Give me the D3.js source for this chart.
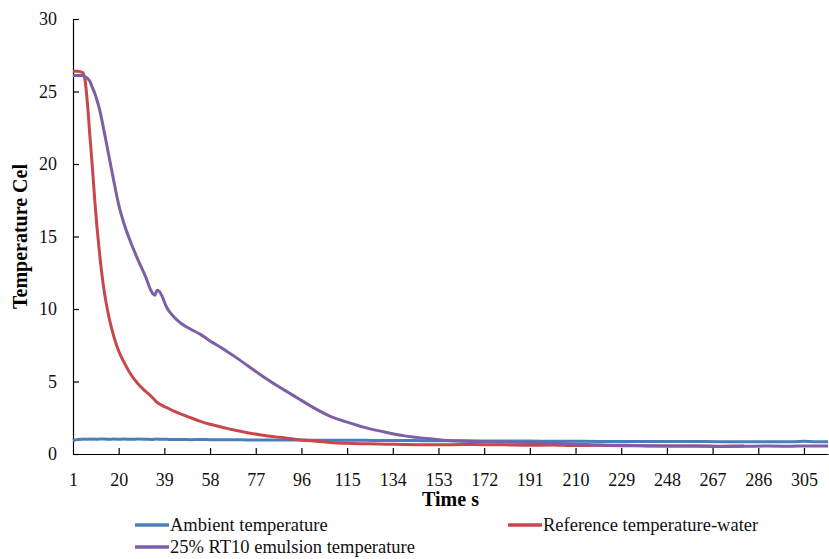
<!DOCTYPE html>
<html>
<head>
<meta charset="utf-8">
<script src="https://cdn.jsdelivr.net/npm/d3@7"></script>
<style>
  html, body { margin: 0; padding: 0; background: #fff; }
  svg text { font-family: "Liberation Serif", "Times New Roman", Times, "DejaVu Serif", serif; }
</style>
</head>
<body>
<div id="temperature-chart"></div>
<script>
// -------------------------------------------------------------------------
// Data

const times = [1, 3, 5, 6, 7, 8, 9, 10, 11, 12, 14, 16, 18, 20, 22, 25, 28, 31, 34, 35, 36, 37, 38,
  40, 43, 46, 50, 54, 58, 63, 68, 74, 80, 87, 94, 101, 108, 115, 123, 131, 139, 147, 155,
  163, 172, 181, 190, 200, 210, 220, 230, 240, 250, 260, 270, 280, 290, 300, 305, 310, 315];

const ambientTemp = [0.92, 1.0, 1.02, 1.03, 1.02, 1.03, 1.02, 1.03, 1.02, 1.03, 1.03, 1.02, 1.03, 1.02, 1.03,
  1.02, 1.03, 1.02, 1.0, 1.02, 1.03, 1.02, 1.02, 1.01, 1.0, 1.0, 0.99, 1.0, 0.99, 0.98, 0.98, 0.97, 0.97,
  0.96, 0.96, 0.95, 0.94, 0.95, 0.94, 0.93, 0.93, 0.92, 0.92, 0.91, 0.9, 0.9, 0.89, 0.88, 0.88, 0.87,
  0.87, 0.86, 0.86, 0.86, 0.85, 0.85, 0.85, 0.85, 0.88, 0.85, 0.85];

const referenceTemp = [26.4, 26.4, 26.3, 25.8, 24.2, 22.0, 19.9, 17.6, 15.6, 13.9, 11.2, 9.4, 8.1, 7.1, 6.4,
  5.5, 4.85, 4.35, 3.9, 3.72, 3.55, 3.45, 3.35, 3.2, 2.95, 2.75, 2.5, 2.25, 2.05, 1.85, 1.65, 1.45, 1.3,
  1.15, 1.0, 0.9, 0.8, 0.74, 0.7, 0.68, 0.65, 0.64, 0.63, 0.66, 0.64, 0.63, 0.6, 0.62, 0.58, 0.6, 0.57,
  0.56, 0.55, 0.56, 0.54, 0.55, null, null, null, null, null];

const emulsionTemp = [26.1, 26.1, 26.1, 26.0, 25.9, 25.7, 25.3, 24.9, 24.4, 23.8, 22.2, 20.5, 18.8, 17.2, 16.0,
  14.6, 13.4, 12.3, 11.1, 10.95, 11.3, 11.2, 10.9, 10.1, 9.45, 9.0, 8.6, 8.25, 7.8, 7.3, 6.75, 6.05, 5.35,
  4.6, 3.9, 3.2, 2.6, 2.2, 1.8, 1.5, 1.25, 1.08, 0.95, 0.88, 0.85, 0.82, 0.8, 0.75, 0.68, 0.62, 0.6,
  0.57, 0.56, 0.55, 0.52, 0.53, 0.55, 0.54, 0.55, 0.55, 0.55];

const seriesNames = ['Ambient temperature', 'Reference temperature-water', '25% RT10 emulsion temperature'];
const seriesValues = [ambientTemp, referenceTemp, emulsionTemp];
const seriesColors = ['#4A7EBB', '#C8474B', '#7C5FA6'];

const xTickLabels = [1, 20, 39, 58, 77, 96, 115, 134, 153, 172, 191, 210, 229, 248, 267, 286, 305];
const yTickLabels = [0, 5, 10, 15, 20, 25, 30];

// -------------------------------------------------------------------------
// Layout

const width = 829;
const height = 559;
const plot = { left: 73, right: 828, top: 19, bottom: 454 };
const serif = '"Liberation Serif", "Times New Roman", Times, "DejaVu Serif", serif';

const svg = d3.select('#temperature-chart')
  .append('svg')
  .attr('width', width)
  .attr('height', height)
  .attr('font-family', serif);

const x = d3.scaleLinear().domain([1, 315]).range([plot.left, plot.right]);
const y = d3.scaleLinear().domain([0, 30]).range([plot.bottom, plot.top]);

// -------------------------------------------------------------------------
// Axes

const xAxis = svg.append('g')
  .attr('transform', `translate(0,${plot.bottom})`)
  .call(d3.axisBottom(x).tickValues(xTickLabels).tickSize(-6).tickSizeOuter(0).tickPadding(19));

const yAxis = svg.append('g')
  .attr('transform', `translate(${plot.left},0)`)
  .call(d3.axisLeft(y).tickValues(yTickLabels).tickSize(-6).tickSizeOuter(0).tickPadding(16));

[xAxis, yAxis].forEach(function(axis) {
  axis.attr('font-family', serif).attr('font-size', 18);
  axis.select('.domain').attr('stroke', '#000').attr('stroke-width', 1.2);
  axis.selectAll('.tick line').attr('stroke', '#000').attr('stroke-width', 1.2);
  axis.selectAll('.tick text').attr('fill', '#111');
});
// first x tick sits on the y axis
xAxis.selectAll('.tick line').filter(function(d) { return d === 1; }).remove();

// axis titles
svg.append('text')
  .attr('x', (plot.left + plot.right) / 2)
  .attr('y', 506)
  .attr('text-anchor', 'middle')
  .attr('font-weight', 'bold')
  .attr('font-size', 20)
  .text('Time s');

svg.append('text')
  .attr('transform', `translate(27,${(plot.top + plot.bottom) / 2}) rotate(-90)`)
  .attr('text-anchor', 'middle')
  .attr('font-weight', 'bold')
  .attr('font-size', 20)
  .text('Temperature Cel');

// -------------------------------------------------------------------------
// Lines

const line = d3.line()
  .defined(function(d) { return d[1] !== null; })
  .x(function(d) { return x(d[0]); })
  .y(function(d) { return y(d[1]); })
  .curve(d3.curveMonotoneX);

seriesValues.forEach(function(values, i) {
  svg.append('path')
    .datum(times.map(function(t, j) { return [t, values[j]]; }))
    .attr('fill', 'none')
    .attr('stroke', seriesColors[i])
    .attr('stroke-width', 3)
    .attr('stroke-linejoin', 'round')
    .attr('d', line);
});

// -------------------------------------------------------------------------
// Legend

const legendSpots = [[135, 525], [508, 525], [135, 547]];

seriesNames.forEach(function(name, i) {
  const g = svg.append('g')
    .attr('transform', `translate(${legendSpots[i][0]},${legendSpots[i][1]})`);
  g.append('line')
    .attr('x1', 0).attr('x2', 34)
    .attr('stroke', seriesColors[i])
    .attr('stroke-width', 3.5);
  g.append('text')
    .attr('x', 35)
    .attr('y', 6)
    .attr('font-size', 18.5)
    .attr('fill', '#111')
    .text(name);
});
</script>
</body>
</html>
